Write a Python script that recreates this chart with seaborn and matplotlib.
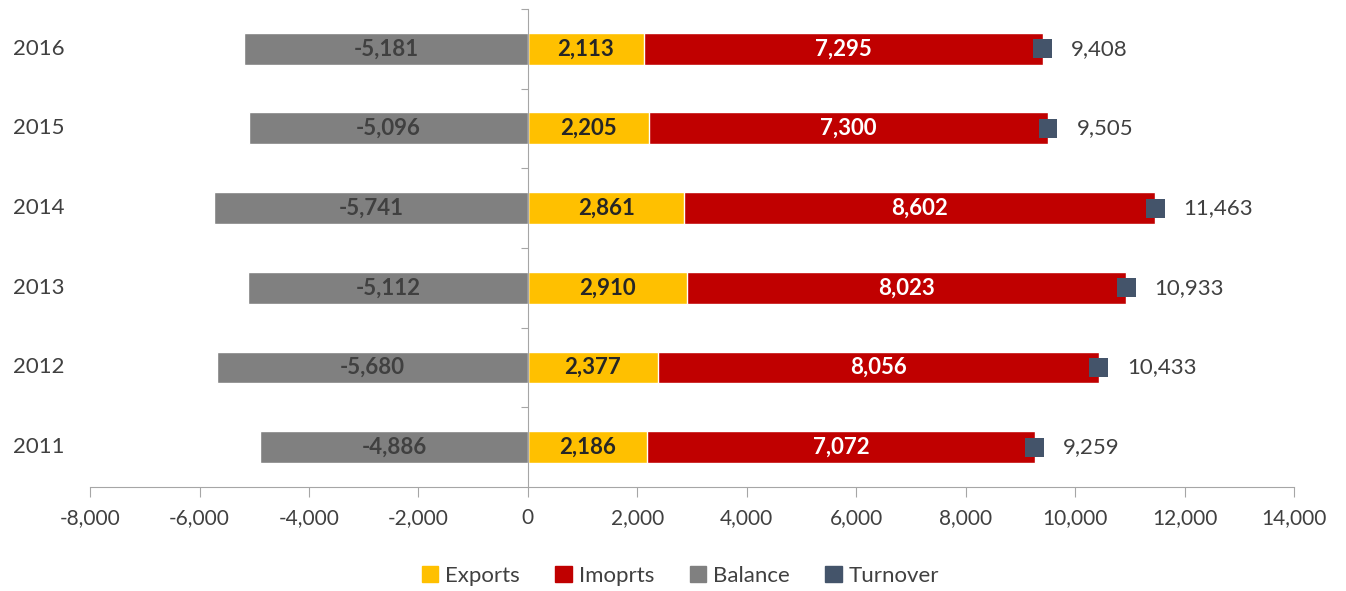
import pandas as pd
import seaborn as sns

import matplotlib
matplotlib.use('Agg')
import matplotlib.pyplot as plt
from matplotlib.patches import Patch
from matplotlib.ticker import FuncFormatter

# data, top of chart first
years = ["2016", "2015", "2014", "2013", "2012", "2011"]
exports = [2113, 2205, 2861, 2910, 2377, 2186]
imports = [7295, 7300, 8602, 8023, 8056, 7072]
balance = [-5181, -5096, -5741, -5112, -5680, -4886]
turnover = [9408, 9505, 11463, 10933, 10433, 9259]

c_exp = "#FFC000"
c_imp = "#C00000"
c_bal = "#808080"
c_turn = "#44546A"
txt = "#404040"

df = pd.DataFrame({"year": years, "exports": exports, "imports": imports,
                   "balance": balance, "turnover": turnover})

sns.set_style("white")
plt.rcParams['font.family'] = ['Lato', 'DejaVu Sans']

fig = plt.figure(figsize=(13.46, 5.91), dpi=100)
ax = fig.add_axes([0.0669, 0.176, 0.8945, 0.809])

# stacked: red bar spans to turnover, yellow exports drawn over it
sns.barplot(data=df, y="year", x="turnover", order=years, color=c_imp,
            width=0.4, saturation=1, ax=ax, orient="h")
sns.barplot(data=df, y="year", x="exports", order=years, color=c_exp,
            width=0.4, saturation=1, ax=ax, orient="h")
sns.barplot(data=df, y="year", x="balance", order=years, color=c_bal,
            width=0.4, saturation=1, ax=ax, orient="h")
sns.scatterplot(data=df, y="year", x="turnover", marker="s", s=185,
                color=c_turn, edgecolor="none", ax=ax, zorder=5)

for i, y in enumerate(years):
    ax.text(balance[i] / 2, i, f"{balance[i]:,}", ha="center", va="center",
            fontsize=16, fontweight="bold", color=txt)
    ax.text(exports[i] / 2, i, f"{exports[i]:,}", ha="center", va="center",
            fontsize=16, fontweight="bold", color="#262626")
    ax.text(exports[i] + imports[i] / 2, i, f"{imports[i]:,}", ha="center",
            va="center", fontsize=16, fontweight="bold", color="white")
    ax.text(turnover[i] + 520, i, f"{turnover[i]:,}", ha="left", va="center",
            fontsize=16, color=txt)
    # year labels at far left
    ax.text(-0.021, i, y, transform=ax.get_yaxis_transform(), ha="right",
            va="center", fontsize=16, color=txt)

ax.set_xlim(-8000, 14000)
ax.set_ylim(5.5, -0.5)
ax.set_xticks(range(-8000, 14001, 2000))
ax.xaxis.set_major_formatter(FuncFormatter(lambda v, p: f"{int(v):,}"))
ax.set_yticks([-0.5, 0.5, 1.5, 2.5, 3.5, 4.5])
ax.set_yticklabels([])
ax.set_xlabel("")
ax.set_ylabel("")

for s in ["top", "right"]:
    ax.spines[s].set_visible(False)
ax.spines["left"].set_position(("data", 0))
ax.spines["left"].set_color("#A6A6A6")
ax.spines["bottom"].set_color("#A6A6A6")
ax.tick_params(axis="x", direction="out", length=7, color="#A6A6A6",
               labelsize=15, labelcolor=txt, pad=8, bottom=True)
ax.tick_params(axis="y", direction="out", length=5, color="#A6A6A6", left=True)

handles = [Patch(color=c_exp, label="Exports"), Patch(color=c_imp, label="Imoprts"),
           Patch(color=c_bal, label="Balance"), Patch(color=c_turn, label="Turnover")]
fig.legend(handles=handles, loc="center", bbox_to_anchor=(0.5055, 0.026), ncol=4,
           frameon=False, fontsize=16, labelcolor=txt, handlelength=0.75,
           handleheight=0.75, handletextpad=0.3, columnspacing=1.6)

fig.savefig("out.png", dpi=100)
